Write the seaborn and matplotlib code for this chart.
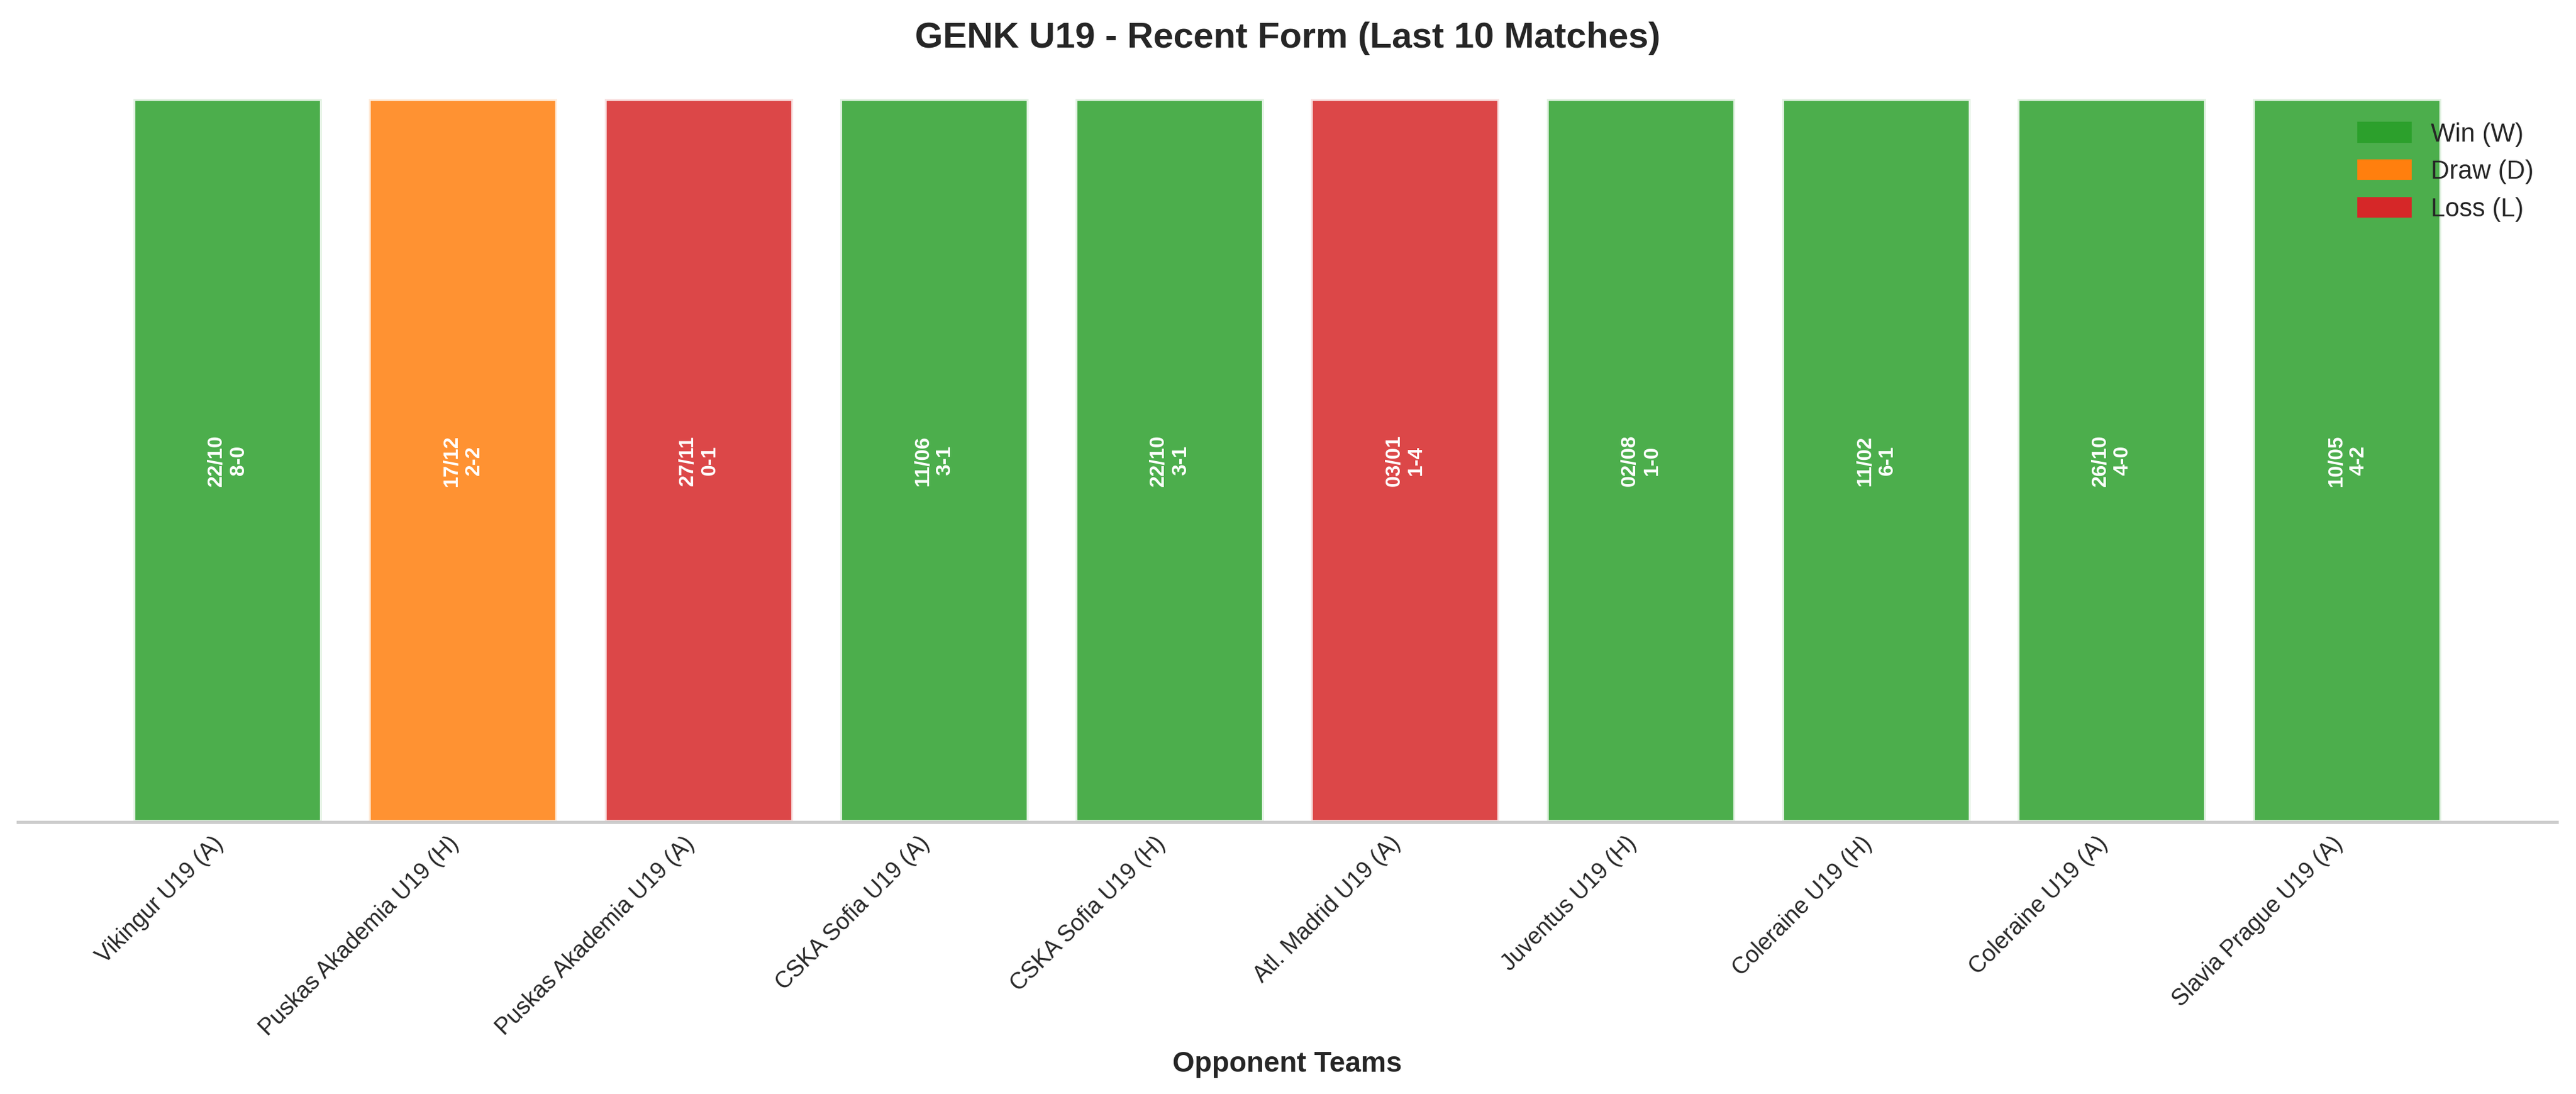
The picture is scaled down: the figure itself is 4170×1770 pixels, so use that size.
import matplotlib
matplotlib.use("Agg")
import matplotlib.pyplot as plt
from matplotlib.patches import Patch
import pandas as pd
import seaborn as sns

sns.set_theme(style="whitegrid")
plt.rcParams["font.family"] = ["Liberation Sans", "DejaVu Sans"]

# last 10 matches, oldest first
opponents = [
    "Vikingur U19 (A)", "Puskas Akademia U19 (H)", "Puskas Akademia U19 (A)",
    "CSKA Sofia U19 (A)", "CSKA Sofia U19 (H)", "Atl. Madrid U19 (A)",
    "Juventus U19 (H)", "Coleraine U19 (H)", "Coleraine U19 (A)",
    "Slavia Prague U19 (A)",
]
results = ["W", "D", "L", "W", "W", "L", "W", "W", "W", "W"]
dates = ["22/10", "17/12", "27/11", "11/06", "22/10", "03/01",
         "02/08", "11/02", "26/10", "10/05"]
scores = ["8-0", "2-2", "0-1", "3-1", "3-1", "1-4",
          "1-0", "6-1", "4-0", "4-2"]

colors = {"W": "#2ca02c", "D": "#ff7f0e", "L": "#d62728"}
names = {"W": "Win (W)", "D": "Draw (D)", "L": "Loss (L)"}

df = pd.DataFrame({"opponent": opponents, "result": results,
                   "date": dates, "score": scores})
df["value"] = 1

fig, ax = plt.subplots(figsize=(13.9, 5.9))
sns.barplot(data=df, x="opponent", y="value", hue="result", palette=colors,
            order=opponents, dodge=False, width=0.8, saturation=1,
            legend=False, ax=ax, alpha=0.85, edgecolor="white", linewidth=1.5)

for i, row in df.iterrows():
    ax.text(i, 0.5, f"{row['date']}\n{row['score']}", rotation=90,
            ha="center", va="center", color="white", fontweight="bold",
            fontsize=8)

ax.set_xlim(-0.89, len(df) - 0.11)
ax.set_ylim(0, 1.0)
ax.set_yticks([])
ax.set_ylabel("")
ax.set_xlabel("Opponent Teams", fontsize=11, fontweight="bold", labelpad=4)
ax.set_title("GENK U19 - Recent Form (Last 10 Matches)", fontsize=14,
             fontweight="bold", pad=20)
ax.set_xticks(range(len(df)))
ax.set_xticklabels(opponents, rotation=45, ha="right", fontsize=9)
ax.tick_params(axis="x", length=0, pad=4)
ax.grid(axis="y", visible=False)
for side in ["left", "right", "top"]:
    ax.spines[side].set_visible(False)
ax.spines["bottom"].set_color("#cccccc")

handles = [Patch(color=colors[k], label=names[k]) for k in ["W", "D", "L"]]
ax.legend(handles=handles, loc="upper right", fontsize=10, frameon=False)

fig.subplots_adjust(left=0.007, right=0.9926, bottom=0.2486, top=0.9096)
fig.savefig("out.png", dpi=300)
